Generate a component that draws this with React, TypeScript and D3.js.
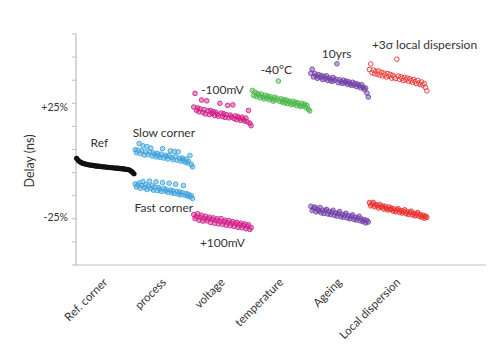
import * as d3 from "d3";

const categories = ["Ref. corner", "process", "voltage", "temperature", "Ageing", "Local dispersion"];

// delay change in %, left to right within each group
const refCorner = [1.2, 0.4, -0.2, -0.6, -0.9, -1.1, -1.3, -1.4, -1.6, -1.7, -1.8, -1.9, -2.0, -2.1, -2.2, -2.2, -2.3, -2.4, -2.5, -2.5, -2.6, -2.7, -2.7, -2.8, -2.9, -2.9, -3.0, -3.1, -3.1, -3.2, -3.3, -3.3, -3.4, -3.5, -3.6, -3.7, -3.9, -4.3, -4.8, -5.5];
const slowCorner = [4.9, 3.6, 4.7, 7.6, 3.2, 4.4, 6.6, 2.6, 4.0, 6.3, 2.8, 3.9, 5.6, 2.2, 3.5, 2.9, 1.8, 3.3, 2.4, 1.6, 3.0, 5.4, 1.3, 2.5, 1.9, 0.9, 2.4, 4.4, 1.5, 0.6, 4.1, 1.9, 0.4, 4.0, 1.2, 0.0, 1.3, 0.5, -0.4, 0.9, -0.8, -0.2, 2.4, -1.5, -2.5];
const fastCorner = [-9.9, -11.2, -10.4, -9.5, -11.8, -10.6, -8.9, -11.5, -10.2, -12.3, -11.0, -8.7, -11.9, -10.7, -12.6, -11.3, -9.0, -12.8, -11.5, -12.2, -13.1, -9.3, -11.8, -13.0, -12.4, -13.5, -9.6, -12.6, -13.8, -12.9, -14.0, -10.0, -13.2, -14.3, -13.4, -14.6, -13.7, -10.6, -14.8, -14.0, -15.1, -14.4, -15.5, -15.0, -16.2];
const minus100mV = [23.4, 29.3, 22.0, 23.0, 21.3, 22.6, 26.4, 21.0, 22.3, 20.4, 26.1, 21.7, 20.1, 21.9, 20.6, 21.4, 19.7, 21.1, 20.2, 19.4, 25.0, 20.8, 19.3, 20.5, 18.9, 20.1, 24.1, 18.7, 19.9, 19.1, 24.3, 18.4, 19.6, 17.9, 19.2, 18.5, 17.6, 19.0, 18.1, 17.3, 18.6, 17.0, 21.9, 16.4, 15.3];
const plus100mV = [-23.2, -24.9, -24.0, -22.8, -25.6, -24.4, -23.5, -26.0, -24.8, -23.9, -25.9, -25.0, -24.3, -26.6, -25.3, -24.6, -26.9, -25.7, -25.0, -27.2, -26.1, -24.9, -27.4, -26.3, -25.6, -27.8, -26.7, -25.8, -28.0, -27.0, -26.2, -28.3, -27.2, -26.5, -28.7, -27.6, -26.9, -28.9, -27.9, -27.2, -29.3, -28.2, -27.6, -29.6, -28.8];
const minus40C = [30.6, 28.4, 29.8, 27.9, 29.2, 28.6, 27.4, 29.0, 27.8, 26.9, 28.5, 27.3, 28.1, 26.6, 27.8, 26.9, 25.9, 27.6, 26.4, 27.2, 34.6, 25.8, 26.9, 25.5, 26.6, 25.1, 26.4, 24.9, 26.0, 25.3, 24.4, 25.9, 24.7, 25.5, 24.0, 25.2, 24.3, 23.6, 25.0, 23.9, 24.6, 23.2, 24.1, 22.4, 21.7];
const ageingUp = [38.0, 39.8, 36.4, 37.9, 36.9, 35.8, 37.4, 36.2, 37.0, 35.3, 36.6, 35.6, 36.9, 34.9, 36.0, 35.3, 34.5, 36.1, 34.8, 35.5, 42.1, 33.9, 35.2, 34.4, 33.6, 35.0, 33.9, 34.6, 33.2, 34.3, 33.5, 32.8, 34.1, 32.9, 33.6, 32.2, 33.3, 32.6, 31.7, 33.0, 31.9, 30.9, 31.6, 29.4, 27.7];
const ageingDown = [-19.6, -21.4, -20.4, -19.9, -22.0, -20.8, -21.6, -20.1, -22.4, -21.2, -22.7, -21.5, -20.9, -22.9, -21.8, -23.2, -22.2, -21.3, -23.5, -22.5, -23.8, -22.7, -21.9, -24.1, -23.1, -24.3, -23.4, -22.6, -24.7, -23.7, -25.0, -24.0, -23.3, -25.3, -24.4, -25.6, -24.7, -23.9, -25.9, -25.1, -26.2, -25.4, -26.8, -25.7, -26.4];
const localUp = [39.6, 42.0, 38.2, 39.4, 37.8, 38.9, 37.6, 39.0, 37.2, 38.4, 36.9, 38.1, 37.3, 36.4, 37.9, 36.7, 37.5, 35.9, 37.1, 36.3, 35.7, 44.1, 36.8, 35.4, 36.5, 35.8, 34.9, 36.2, 35.2, 35.9, 34.5, 35.6, 34.8, 34.1, 35.3, 34.4, 33.6, 34.9, 33.8, 33.1, 34.2, 32.9, 33.5, 31.9, 30.4];
const localDown = [-18.0, -19.4, -18.6, -17.9, -19.8, -18.9, -19.3, -20.3, -18.8, -20.0, -19.5, -20.8, -19.6, -20.5, -21.2, -19.9, -21.0, -20.4, -21.6, -20.8, -21.9, -21.2, -20.6, -22.2, -21.4, -22.5, -21.8, -21.1, -22.8, -22.0, -23.1, -22.3, -21.7, -23.4, -22.6, -23.7, -22.9, -22.3, -23.9, -23.2, -24.3, -23.5, -24.7, -23.8, -24.4];

const series = [
  { values: refCorner, cat: 0, color: "#111111", fill: "#111111", fillOpacity: 1, label: "Ref", lx: 0.4, ly: 6 },
  { values: slowCorner, cat: 1, color: "#3fa3dc", fill: "#3fa3dc", fillOpacity: 0.45, label: "Slow corner", lx: 0.5, ly: 10.5 },
  { values: fastCorner, cat: 1, color: "#3fa3dc", fill: "#3fa3dc", fillOpacity: 0.45, label: "Fast corner", lx: 0.5, ly: -22 },
  { values: minus100mV, cat: 2, color: "#d0208a", fill: "#d0208a", fillOpacity: 0.45, label: "-100mV", lx: 0.5, ly: 29 },
  { values: plus100mV, cat: 2, color: "#d0208a", fill: "#d0208a", fillOpacity: 0.45, label: "+100mV", lx: 0.5, ly: -37 },
  { values: minus40C, cat: 3, color: "#4cb84a", fill: "#4cb84a", fillOpacity: 0.45, label: "-40°C", lx: 0.42, ly: 37.5 },
  { values: ageingUp, cat: 4, color: "#7440a8", fill: "#7440a8", fillOpacity: 0.45, label: "10yrs", lx: 0.45, ly: 44.5 },
  { values: ageingDown, cat: 4, color: "#7440a8", fill: "#7440a8", fillOpacity: 0.45, label: "", lx: 0, ly: 0 },
  { values: localUp, cat: 5, color: "#e8302c", fill: "#ffffff", fillOpacity: 0.2, label: "+3σ local dispersion", lx: 0.95, ly: 48.5 },
  { values: localDown, cat: 5, color: "#e8302c", fill: "#e8302c", fillOpacity: 0.4, label: "", lx: 0, ly: 0 },
];

const font = "Lato, 'Open Sans', sans-serif";

export default function App() {
  const width = 500;
  const height = 363;
  const x = d3.scaleLinear().domain([0, 7]).range([76, 486]);
  const y = d3.scaleLinear().domain([-45, 55]).range([265, 34]);
  const yTicks = d3.range(-45, 56, 10);
  const axisColor = "#bdbdbd";

  return (
    <svg width={width} height={height} style={{ position: "absolute", left: 0, top: 0, background: "#fff" }}>
      {/* axes */}
      <line x1={x(0)} x2={x(0)} y1={y(55)} y2={y(-45)} stroke={axisColor} strokeWidth={1.2} />
      <line x1={x(0)} x2={x(7)} y1={y(-45)} y2={y(-45)} stroke={axisColor} strokeWidth={1.2} />
      {yTicks.map((t) => (
        <line key={t} x1={x(0) - 4} x2={x(0)} y1={y(t)} y2={y(t)} stroke={axisColor} strokeWidth={1} />
      ))}
      <text x={68} y={y(25) + 8} textAnchor="end" fontSize={10.5} fontFamily={font} fill="#333">+25%</text>
      <text x={68} y={y(-25) + 2.5} textAnchor="end" fontSize={10.5} fontFamily={font} fill="#333">-25%</text>
      <text transform={`translate(34, 161) rotate(-90)`} textAnchor="middle" fontSize={12.5} fontFamily={font} fill="#333">Delay (ns)</text>

      {/* category labels */}
      {categories.map((c, i) => (
        <text
          key={c}
          transform={`translate(${x(i + 0.5) + 3}, 283) rotate(-45)`}
          textAnchor="end"
          fontSize={11.5}
          fontFamily={font}
          fill="#333"
        >
          {c}
        </text>
      ))}

      {/* points */}
      {series.map((s, si) => (
        <g key={si}>
          {s.values.map((v, i) => (
            <circle
              key={i}
              cx={x(s.cat + 0.01 + (i / (s.values.length - 1)) * 0.98)}
              cy={y(v)}
              r={si === 0 ? 2.6 : 2.3}
              fill={s.fill}
              fillOpacity={s.fillOpacity}
              stroke={s.color}
              strokeWidth={si === 0 ? 0 : 0.9}
            />
          ))}
        </g>
      ))}

      {/* annotations */}
      {series.filter((s) => s.label).map((s) => (
        <text
          key={s.label}
          x={x(s.cat + s.lx)}
          y={y(s.ly)}
          textAnchor="middle"
          fontSize={12}
          fontFamily={font}
          fill="#333"
        >
          {s.label}
        </text>
      ))}
    </svg>
  );
}
